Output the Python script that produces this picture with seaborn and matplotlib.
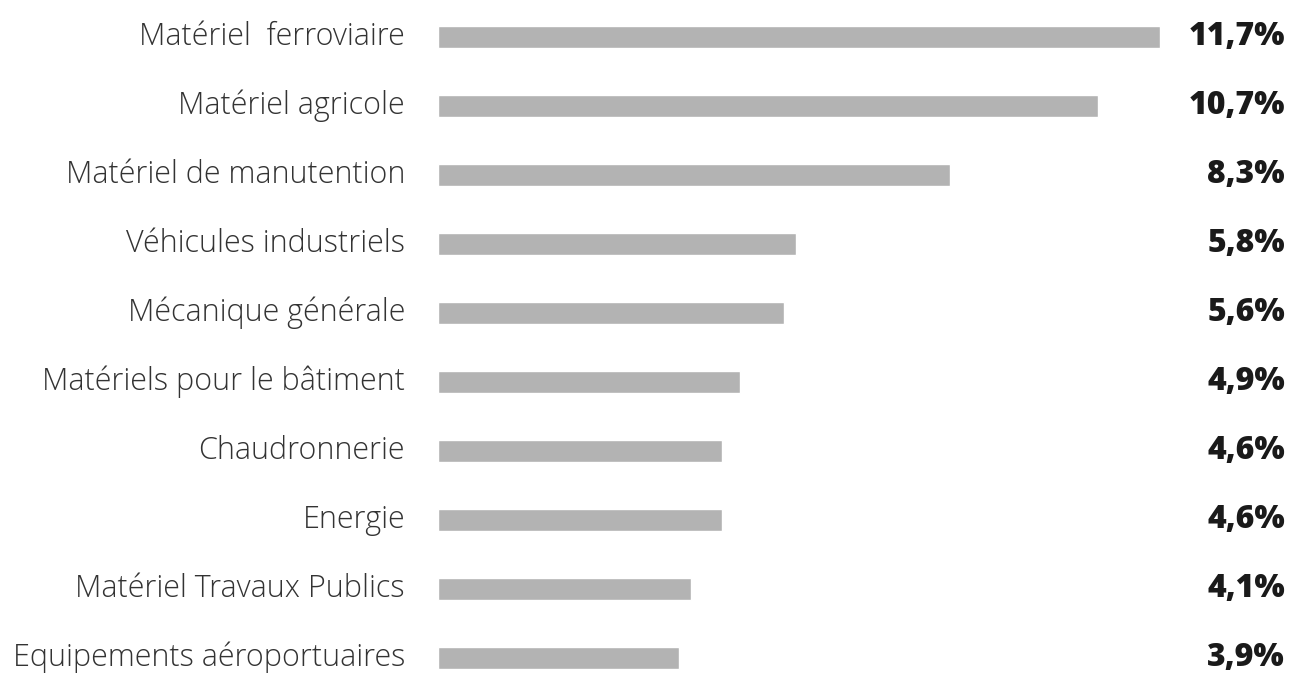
import matplotlib
matplotlib.use("Agg")
import matplotlib.pyplot as plt
import matplotlib.transforms as mtransforms
import seaborn as sns
import pandas as pd

categories = [
    "Matériel  ferroviaire",
    "Matériel agricole",
    "Matériel de manutention",
    "Véhicules industriels",
    "Mécanique générale",
    "Matériels pour le bâtiment",
    "Chaudronnerie",
    "Energie",
    "Matériel Travaux Publics",
    "Equipements aéroportuaires",
]
values = [11.7, 10.7, 8.3, 5.8, 5.6, 4.9, 4.6, 4.6, 4.1, 3.9]
value_labels = ["11,7%", "10,7%", "8,3%", "5,8%", "5,6%", "4,9%", "4,6%", "4,6%", "4,1%", "3,9%"]

df = pd.DataFrame({"cat": categories, "val": values})

sns.set_theme(style="white")
plt.rcParams["font.family"] = ["Open Sans", "DejaVu Sans"]

W, H = 1290, 673
fig = plt.figure(figsize=(W / 100, H / 100), dpi=100)
left_px = 438
ax = fig.add_axes([left_px / W, 0, 1 - left_px / W, 1])

sns.barplot(data=df, x="val", y="cat", orient="h", color="#b3b3b3",
            saturation=1, width=0.32, ax=ax, order=categories)

px_per_unit = 61.7
ax.set_xlim(0, (W - left_px) / px_per_unit)
ax.set_ylim((H - 37) / 69.0, -37 / 69.0)
ax.axis("off")

trans = mtransforms.blended_transform_factory(ax.transAxes, ax.transData)
for i, (c, lab) in enumerate(zip(categories, value_labels)):
    ax.text(-33 / (W - left_px), i, c, transform=trans, ha="right", va="center",
            fontsize=22, fontweight="light", color="#333333")
    ax.text((1285 - left_px) / (W - left_px), i, lab, transform=trans, ha="right",
            va="center", fontsize=23, fontweight="heavy", color="#1a1a1a")

fig.savefig("out.png", dpi=100)
